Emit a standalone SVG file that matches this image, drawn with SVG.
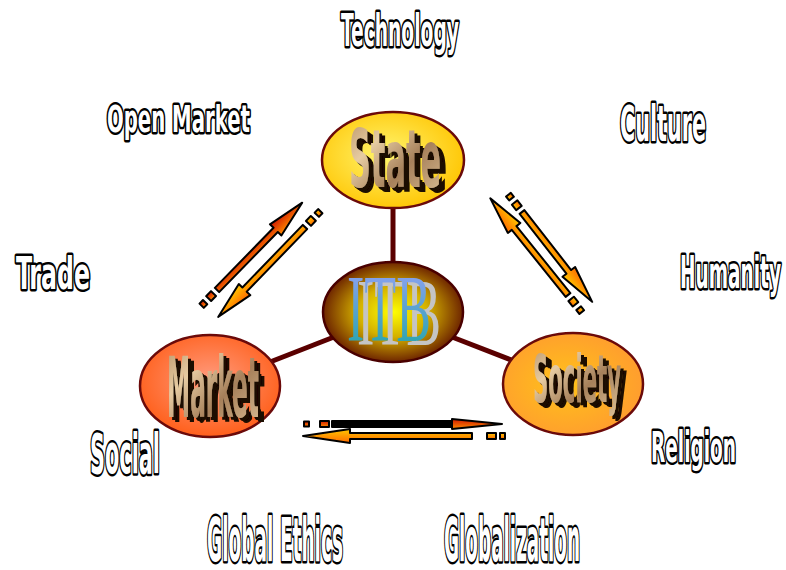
<svg xmlns="http://www.w3.org/2000/svg" width="786" height="570" viewBox="0 0 786 570">
<defs>
<radialGradient id="gState" cx="0.45" cy="0.45" r="0.6"><stop offset="0" stop-color="#fff56e"/><stop offset="1" stop-color="#ffc400"/></radialGradient>
<radialGradient id="gITB" cx="0.5" cy="0.5" r="0.55"><stop offset="0" stop-color="#ffff00"/><stop offset="0.45" stop-color="#d4b000"/><stop offset="1" stop-color="#5a0a00"/></radialGradient>
<radialGradient id="gMarket" cx="0.5" cy="0.45" r="0.6"><stop offset="0" stop-color="#ff9c80"/><stop offset="1" stop-color="#ff5a12"/></radialGradient>
<radialGradient id="gSociety" cx="0.45" cy="0.5" r="0.6"><stop offset="0" stop-color="#ffc21a"/><stop offset="1" stop-color="#ff9a30"/></radialGradient>
<linearGradient id="gTex" x1="0" y1="0" x2="1" y2="1"><stop offset="0" stop-color="#b89266"/><stop offset="0.3" stop-color="#e6cba2"/><stop offset="0.6" stop-color="#a6805a"/><stop offset="1" stop-color="#e0c49a"/></linearGradient>
<linearGradient id="gITBtext" x1="0" y1="0" x2="0" y2="1"><stop offset="0" stop-color="#a0a0ff"/><stop offset="1" stop-color="#14a6a0"/></linearGradient>
<linearGradient id="gRed" x1="0" y1="0" x2="0" y2="1"><stop offset="0" stop-color="#d01800"/><stop offset="1" stop-color="#ff8c00"/></linearGradient>
<linearGradient id="gOrange" x1="0" y1="0" x2="0" y2="1"><stop offset="0" stop-color="#ff6a00"/><stop offset="1" stop-color="#ffc800"/></linearGradient>
<filter id="extrude" x="-10%" y="-10%" width="130%" height="130%">
<feFlood flood-color="#1e1005"/>
<feComposite in2="SourceAlpha" operator="in" result="dark"/>
<feOffset in="dark" dx="3" dy="3" result="d1"/>
<feOffset in="dark" dx="6" dy="5" result="d2"/>
<feMerge><feMergeNode in="d2"/><feMergeNode in="d1"/><feMergeNode in="SourceGraphic"/></feMerge>
</filter>
<filter id="itbShadow" x="-10%" y="-10%" width="130%" height="130%">
<feFlood flood-color="#c4c4c4"/>
<feComposite in2="SourceAlpha" operator="in" result="g"/>
<feOffset in="g" dx="10" dy="4" result="g1"/>
<feMerge><feMergeNode in="g1"/><feMergeNode in="SourceGraphic"/></feMerge>
</filter>
</defs>
<style>
.lbl{font-family:"Liberation Sans Narrow","DejaVu Sans Condensed","Liberation Sans",sans-serif;font-weight:bold;fill:#fff;stroke:#000;stroke-width:5;paint-order:stroke;stroke-linejoin:round}
.big{font-family:"Liberation Sans Narrow","DejaVu Sans Condensed","Liberation Sans",sans-serif;font-weight:bold;fill:url(#gTex);filter:url(#extrude)}
.node{stroke:#6b0a0a;stroke-width:2.5}
.conn{stroke:#5a0000;stroke-width:5;fill:none}
.arr{stroke:#000;stroke-width:2;stroke-linejoin:round}
.red{fill:url(#gRed)}
.org{fill:url(#gOrange)}
</style>

<g id="connectors">
<line class="conn" x1="393" y1="206" x2="393" y2="264"/>
<line class="conn" x1="334" y1="337" x2="270" y2="362"/>
<line class="conn" x1="452" y1="337" x2="514" y2="361"/>
</g>

<g id="arrows">
<g transform="translate(217,290) rotate(-45.7)">
<path class="arr red" d="M0,-3 H84 V-8 L122,0 L84,8 V3 H0 Z"/>
<rect class="arr red" x="-12" y="-3.5" width="7" height="7"/>
<rect class="arr red" x="-22" y="-3" width="5" height="6"/>
</g>
<g transform="translate(305,227) rotate(134)">
<path class="arr org" d="M0,-3 H87 V-8 L125,0 L87,8 V3 H0 Z"/>
<rect class="arr org" x="-12" y="-3.5" width="7" height="7"/>
<rect class="arr org" x="-22" y="-3" width="5" height="6"/>
</g>
<g transform="translate(568,295) rotate(-128.8)">
<path class="arr org" d="M0,-3 H86 V-8 L124,0 L86,8 V3 H0 Z"/>
<rect class="arr org" x="-12" y="-3.5" width="7" height="7"/>
<rect class="arr org" x="-22" y="-3" width="5" height="6"/>
</g>
<g transform="translate(522,212) rotate(52)">
<path class="arr org" d="M0,-3 H76 V-8 L114,0 L76,8 V3 H0 Z"/>
<rect class="arr org" x="-12" y="-3.5" width="7" height="7"/>
<rect class="arr org" x="-22" y="-3" width="5" height="6"/>
</g>
<g transform="translate(332,424)">
<path class="arr" fill="#000" d="M0,-3 H120 V3 H0 Z"/>
<path class="arr red" d="M120,-5 L170,0 L120,5 Z"/>
<rect class="arr red" x="-12" y="-3" width="9" height="6"/>
<rect class="arr red" x="-28" y="-2.5" width="5" height="5"/>
</g>
<g transform="translate(472,436) rotate(180)">
<path class="arr org" d="M0,-3 H122 V-7 L169,0 L122,7 V3 H0 Z"/>
<rect class="arr org" x="-24" y="-3" width="9" height="6"/>
<rect class="arr org" x="-33" y="-3" width="5" height="6"/>
</g>
</g>

<g id="state">
<ellipse class="node" cx="393" cy="160" rx="71" ry="48" fill="url(#gState)"/>
<text class="big" x="349" y="187" font-size="80" textLength="92" lengthAdjust="spacingAndGlyphs">State</text>
</g>

<g id="itb">
<ellipse cx="393" cy="312" rx="70" ry="50" fill="url(#gITB)" stroke="#4a0000" stroke-width="2.5"/>
<text x="347" y="341" font-family="Liberation Serif,serif" font-size="95" textLength="84" lengthAdjust="spacingAndGlyphs" fill="url(#gITBtext)" filter="url(#itbShadow)">ITB</text>
</g>

<g id="market">
<ellipse class="node" cx="210" cy="386" rx="70" ry="51" fill="url(#gMarket)"/>
<text class="big" x="167" y="417" font-size="84" textLength="92" lengthAdjust="spacingAndGlyphs">Market</text>
</g>

<g id="society">
<ellipse class="node" cx="573" cy="384" rx="70" ry="51" fill="url(#gSociety)"/>
<text class="big" x="533" y="402" font-size="66" textLength="88" lengthAdjust="spacingAndGlyphs">Society</text>
</g>

<g id="labels">
<text class="lbl" x="341" y="46" font-size="44" textLength="118" lengthAdjust="spacingAndGlyphs">Technology</text>
<text class="lbl" x="107" y="132" font-size="38" textLength="143" lengthAdjust="spacingAndGlyphs">Open Market</text>
<text class="lbl" x="620" y="141" font-size="50" textLength="86" lengthAdjust="spacingAndGlyphs">Culture</text>
<text class="lbl" x="16" y="289" font-size="44" textLength="74" lengthAdjust="spacingAndGlyphs">Trade</text>
<text class="lbl" x="680" y="288" font-size="44" textLength="101" lengthAdjust="spacingAndGlyphs">Humanity</text>
<text class="lbl" x="90" y="473" font-size="56" textLength="70" lengthAdjust="spacingAndGlyphs">Social</text>
<text class="lbl" x="651" y="462" font-size="42" textLength="85" lengthAdjust="spacingAndGlyphs">Religion</text>
<text class="lbl" x="207" y="561" font-size="60" textLength="136" lengthAdjust="spacingAndGlyphs">Global Ethics</text>
<text class="lbl" x="444" y="561" font-size="60" textLength="136" lengthAdjust="spacingAndGlyphs">Globalization</text>
</g>
</svg>
